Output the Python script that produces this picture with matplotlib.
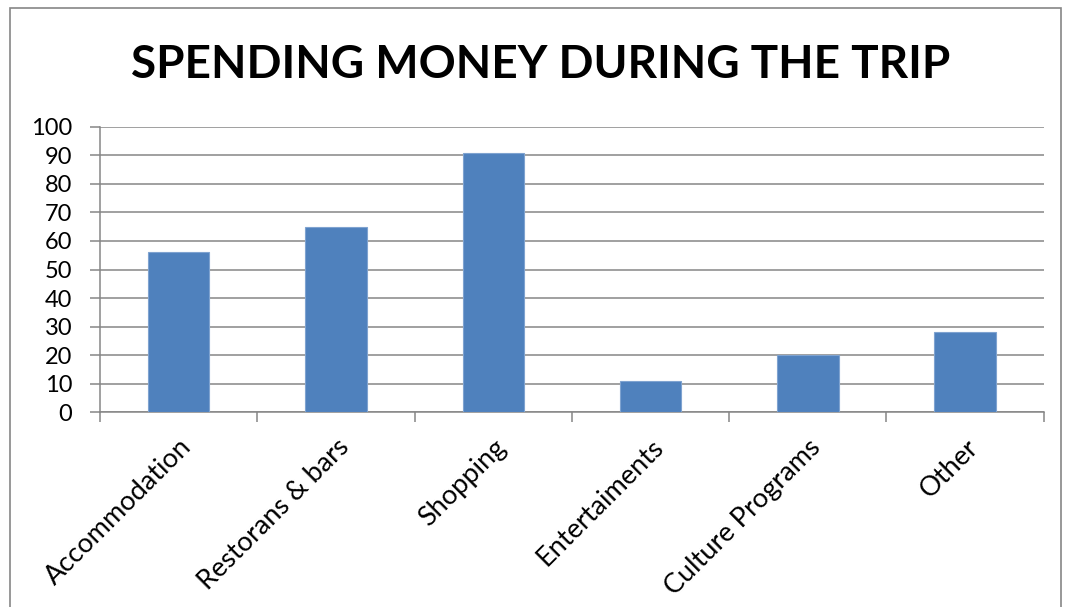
import matplotlib.pyplot as plt
import numpy as np
from matplotlib.patches import Rectangle

categories = ["Accommodation", "Restorans & bars", "Shopping", "Entertaiments", "Culture Programs", "Other"]
values = [56, 65, 91, 11, 20, 28]
y_ticks = list(range(0, 101, 10))

plt.rcParams["font.family"] = ["Lato", "DejaVu Sans"]

fig = plt.figure(figsize=(10.7, 6.07), dpi=100)
ax = fig.add_axes([0.0935, 0.321, 0.882, 0.470])

x = np.arange(len(categories))
ax.bar(x, values, width=0.39, color="#4f81bd", edgecolor="#7fa3d0", linewidth=0.8, zorder=3)

ax.set_xlim(-0.5, len(categories) - 0.5)
ax.set_ylim(0, 100)
ax.set_yticks(y_ticks)
ax.set_yticklabels([str(t) for t in y_ticks], fontsize=17)
ax.yaxis.grid(True, color="#868686", linewidth=1.1, zorder=0)

ax.set_xticks(x)
ax.set_xticklabels(categories, rotation=45, ha="right", rotation_mode="anchor", fontsize=19.5)
ax.set_xticks(np.arange(-0.5, len(categories)), minor=True)
ax.tick_params(axis="x", which="major", length=0, pad=16)
ax.tick_params(axis="x", which="minor", length=7, color="#868686", width=1.1)
ax.tick_params(axis="y", length=7, color="#868686", width=1.1, pad=13)

for side in ["top", "right"]:
    ax.spines[side].set_visible(False)
for side in ["left", "bottom"]:
    ax.spines[side].set_color("#868686")
    ax.spines[side].set_linewidth(1.1)

fig.text(0.505, 0.893, "SPENDING MONEY DURING THE TRIP", ha="center", va="center",
         fontsize=33, fontweight="bold")

fig.patches.append(Rectangle((0.009, -0.01), 0.983, 0.997, transform=fig.transFigure,
                             fill=False, edgecolor="#868686", linewidth=1.2))

fig.savefig("out.png", dpi=100)
